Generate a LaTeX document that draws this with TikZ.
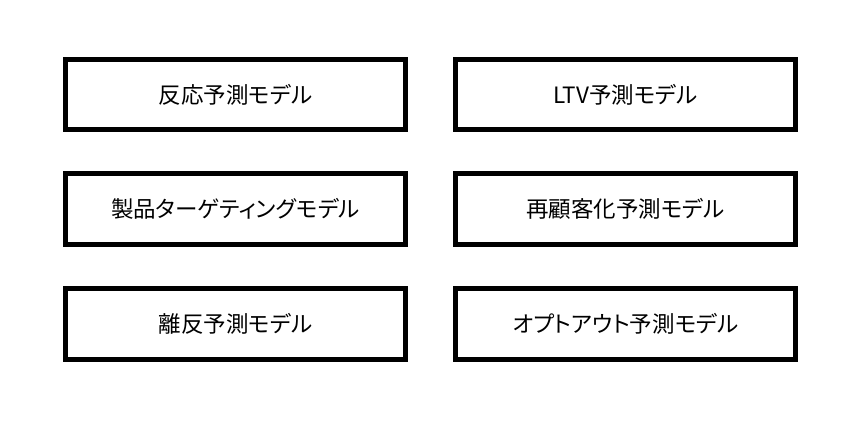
\documentclass[tikz,border=0pt]{standalone}
\usepackage{fontspec}
\setmainfont{Noto Sans CJK JP}[RawFeature=+palt]
\usetikzlibrary{positioning}

\begin{document}
\begin{tikzpicture}[node distance=44pt and 50pt,every node/.append style={align=center},model/.style={draw, line width=5pt, outer sep=0pt, minimum width=340pt, minimum height=70.5pt, font=\fontsize{22.5pt}{26pt}\selectfont}]
    \useasboundingbox (0,0) rectangle (862pt,-430pt);
    \node [model] (M1) at (235.5pt,-94.75pt) {反応予測モデル};
    \node [model, right=of M1] (M2)           {LTV予測モデル};
    \node [model, below=of M1] (M3)           {製品ターゲティングモデル};
    \node [model, below=of M2] (M4)           {再顧客化予測モデル};
    \node [model, below=of M3] (M5)           {離反予測モデル};
    \node [model, below=of M4] (M6)           {オプトアウト予測モデル};
\end{tikzpicture}
\end{document}
